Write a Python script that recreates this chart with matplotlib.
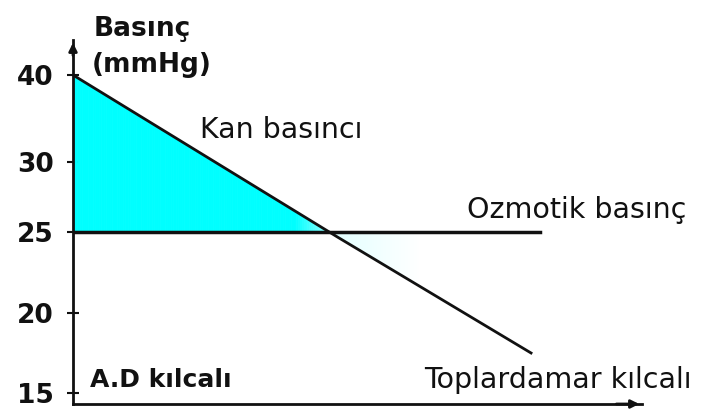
import matplotlib.pyplot as plt
import numpy as np

# tick values on the pressure axis (drawn with uneven spacing in the original)
ytick_vals = [15, 20, 25, 30, 40]

# blood pressure along the capillary (arbitrary position units)
kan_x = [0, 4.5, 8.05]
kan_y = [40, 25, 17.5]

# osmotic pressure stays constant
ozmotik_x = [0, 8.2]
ozmotik_y = [25, 25]

# piecewise scale so the ticks sit like in the picture
scale_vals = [10, 15, 20, 25, 30, 40, 50]
scale_pos = [-80, 0, 80, 161, 231, 318, 405]


def forward(v):
    return np.interp(v, scale_vals, scale_pos)


def inverse(p):
    return np.interp(p, scale_pos, scale_vals)


W, H = 702, 409
fig = plt.figure(figsize=(W / 100, H / 100), dpi=100)
ax = fig.add_axes([73 / W, 5 / H, (642 - 73) / W, (404 - 40) / H])
ax.set_yscale('function', functions=(forward, inverse))

dark = '#111111'
cyan = np.array([0.0, 1.0, 1.0])

# kan line, interpolated in display space so it stays straight
xs = np.linspace(kan_x[0], kan_x[-1], 400)
kan_line = inverse(np.interp(xs, kan_x, forward(np.array(kan_y))))
ax.plot(xs, kan_line, color=dark, lw=2, zorder=4)
ax.plot(ozmotik_x, ozmotik_y, color=dark, lw=2.5, zorder=4)

# cyan filled area, fading out around the crossing
edges = np.linspace(0, 6.1, 160)
for a, b in zip(edges[:-1], edges[1:]):
    m = 0.5 * (a + b)
    if m < 3.9:
        alpha = 1.0
    elif m < 4.5:
        alpha = 1.0 - 0.6 * (m - 3.9) / 0.6
    else:
        alpha = 0.12 * (6.1 - m) / 1.6
    col = cyan * alpha + np.ones(3) * (1 - alpha)
    seg = np.linspace(a, b, 4)
    top = inverse(np.interp(seg, kan_x, forward(np.array(kan_y))))
    ax.fill_between(seg, top, 25, color=col, lw=0.6, edgecolor=col, zorder=2)

ax.set_xlim(0, 10)
ax.set_ylim(inverse(-11), inverse(353))
ax.set_yticks(ytick_vals)
ax.set_yticklabels([str(v) for v in ytick_vals])
ax.yaxis.set_minor_locator(plt.NullLocator())
ax.set_xticks([])
ax.tick_params(axis='y', direction='inout', length=8, width=1.5, pad=10,
               labelsize=19, colors=dark)
for lab in ax.get_yticklabels():
    lab.set_fontweight('bold')

for s in ['top', 'right']:
    ax.spines[s].set_visible(False)
for s in ['left', 'bottom']:
    ax.spines[s].set_linewidth(2)
    ax.spines[s].set_color(dark)

ax.annotate('', xy=(0, 1.0), xytext=(0, 0.95), xycoords='axes fraction',
            arrowprops=dict(arrowstyle='-|>', color=dark, lw=2, mutation_scale=12),
            annotation_clip=False)
ax.annotate('', xy=(1.0, 0), xytext=(0.95, 0), xycoords='axes fraction',
            arrowprops=dict(arrowstyle='-|>', color=dark, lw=2, mutation_scale=12),
            annotation_clip=False)


def px(x, y):
    return x / W, 1 - y / H


fig.text(*px(94, 36), 'Basınç', fontsize=19, fontweight='bold', color=dark, va='baseline')
fig.text(*px(92, 72), '(mmHg)', fontsize=19, fontweight='bold', color=dark, va='baseline')
fig.text(*px(200, 138), 'Kan basıncı', fontsize=20.5, color=dark, va='baseline')
fig.text(*px(467, 218), 'Ozmotik basınç', fontsize=20.5, color=dark, va='baseline')
fig.text(*px(90, 387), 'A.D kılcalı', fontsize=18, fontweight='bold', color=dark, va='baseline')
fig.text(*px(424, 388), 'Toplardamar kılcalı', fontsize=20.5, color=dark, va='baseline')

fig.savefig('out.png', dpi=100)
